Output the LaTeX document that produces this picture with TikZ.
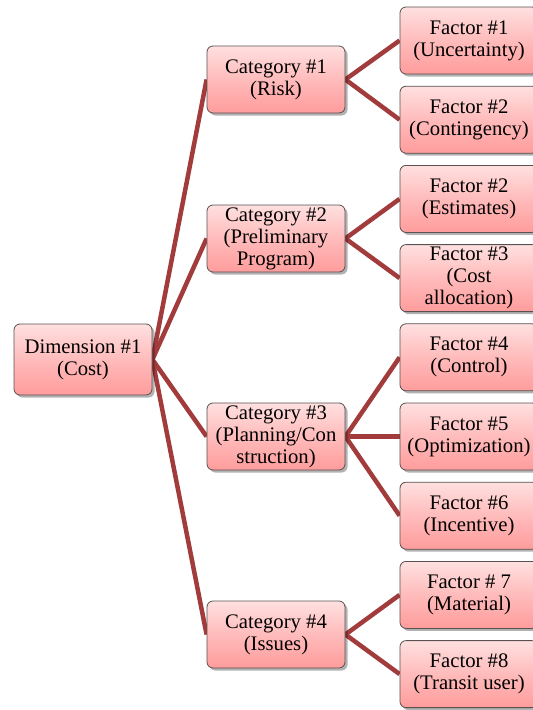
\documentclass[tikz,border=0pt]{standalone}
\usepackage{fontspec}
\setmainfont{Liberation Serif}
\usetikzlibrary{shadows}
\pgfdeclarelayer{background}
\pgfsetlayers{background,main}
\definecolor{linkred}{HTML}{A23B3B}
\definecolor{boxtop}{HTML}{FFE0E0}
\definecolor{boxmid}{HTML}{FFBBBB}
\definecolor{boxbot}{HTML}{FF9C9C}
\definecolor{boxedge}{HTML}{5A5050}
\tikzset{
  x=1pt, y=1pt,
  pinkbox/.style={draw=boxedge, line width=0.8pt, rounded corners=6pt,
    top color=boxtop, bottom color=boxbot, middle color=boxmid,
    minimum width=138pt, minimum height=67pt, inner sep=0pt,
    align=center, font=\fontsize{20.7}{22}\selectfont,
    drop shadow={shadow xshift=2.5pt, shadow yshift=-2.5pt, opacity=0.3, fill=black}},
  link/.style={draw=linkred, line width=4.5pt}
}
\begin{document}
\begin{tikzpicture}
\useasboundingbox (0,0) rectangle (533,-710);
% root
\node[pinkbox, minimum height=71pt] (dim) at (83,-359.5) {Dimension \#1\\(Cost)};
% categories
\node[pinkbox] (c1) at (276,-79.5) {Category \#1\\(Risk)};
\node[pinkbox] (c2) at (276,-238.5) {Category \#2\\(Preliminary\\Program)};
\node[pinkbox] (c3) at (276,-436.5) {Category \#3\\(Planning/Con\\struction)};
\node[pinkbox] (c4) at (276,-634.5) {Category \#4\\(Issues)};
% factors
\node[pinkbox] (f1) at (469,-40.5) {Factor \#1\\(Uncertainty)};
\node[pinkbox] (f2) at (469,-119.7) {Factor \#2\\(Contingency)};
\node[pinkbox] (f2b) at (469,-198.9) {Factor \#2\\(Estimates)};
\node[pinkbox] (f3) at (469,-278.1) {Factor \#3\\(Cost\\allocation)};
\node[pinkbox] (f4) at (469,-357.3) {Factor \#4\\(Control)};
\node[pinkbox] (f5) at (469,-436.5) {Factor \#5\\(Optimization)};
\node[pinkbox] (f6) at (469,-515.7) {Factor \#6\\(Incentive)};
\node[pinkbox] (f7) at (469,-594.9) {Factor \# 7\\(Material)};
\node[pinkbox] (f8) at (469,-674.1) {Factor \#8\\(Transit user)};
% connectors behind the boxes
\begin{pgfonlayer}{background}
\foreach \c in {c1,c2,c3,c4} \draw[link] (dim.east) -- (\c.west);
\foreach \f in {f1,f2} \draw[link] (c1.east) -- (\f.west);
\foreach \f in {f2b,f3} \draw[link] (c2.east) -- (\f.west);
\foreach \f in {f4,f5,f6} \draw[link] (c3.east) -- (\f.west);
\foreach \f in {f7,f8} \draw[link] (c4.east) -- (\f.west);
\end{pgfonlayer}
\end{tikzpicture}
\end{document}
